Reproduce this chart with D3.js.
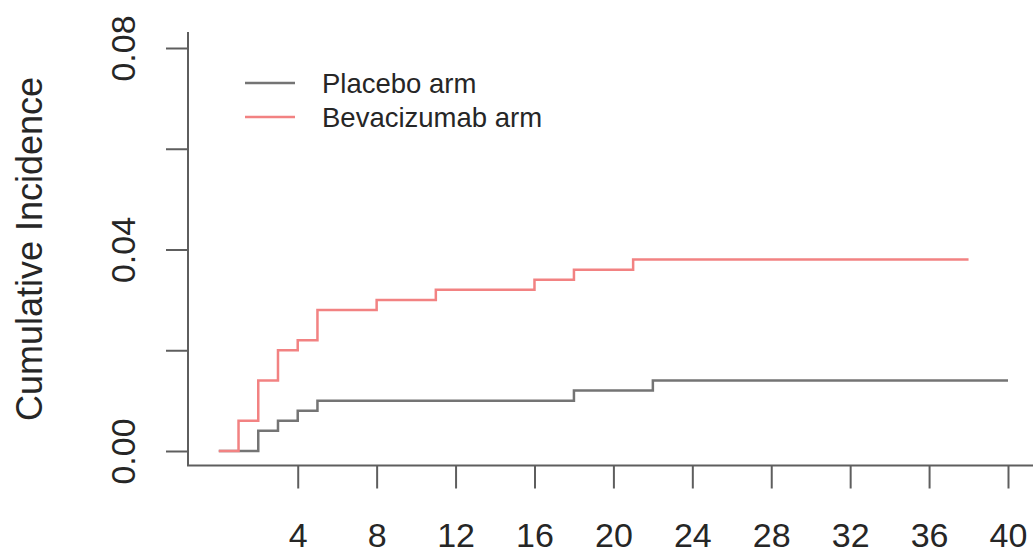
<!DOCTYPE html>
<html>
<head>
<meta charset="utf-8">
<script src="https://cdn.jsdelivr.net/npm/d3@7"></script>
<style>
  html, body { margin: 0; padding: 0; background: #fff; }
  svg { display: block; }
</style>
</head>
<body>
<svg id="chart" width="1033" height="554"></svg>
<script>
// ---- data ----
const seriesNames = ["Placebo arm", "Bevacizumab arm"];
const placeboTime = [0, 2, 3, 4, 5, 18, 22, 40];
const placeboCI   = [0, 0.004, 0.006, 0.008, 0.010, 0.012, 0.014, 0.014];
const bevTime     = [0, 1, 2, 3, 4, 5, 8, 11, 16, 18, 21, 38];
const bevCI       = [0, 0.006, 0.014, 0.020, 0.022, 0.028, 0.030, 0.032, 0.034, 0.036, 0.038, 0.038];
const xTicks = [4, 8, 12, 16, 20, 24, 28, 32, 36, 40];
const yTicks = [0, 0.02, 0.04, 0.06, 0.08];
const yTickLabels = ["0.00", "", "0.04", "", "0.08"];
const yTitle = "Cumulative Incidence";

// ---- layout ----
const svg = d3.select("#chart");
const colors = ["#747474", "#f28282"];
const textColor = "#262626";
const axisColor = "#5e5e5e";
const font = "Liberation Sans, Arial, Helvetica, sans-serif";

const x = d3.scaleLinear().domain([0, 40]).range([218.8, 1008]);
const y = d3.scaleLinear().domain([0, 0.08]).range([451, 48]);

const frameLeft = 188, frameBottom = 465.5, frameTop = 32;

// y axis
const yAxis = d3.axisLeft(y).tickValues(yTicks).tickSize(22)
  .tickFormat((d, i) => yTickLabels[i]);
const gy = svg.append("g").attr("transform", `translate(${frameLeft},0)`).call(yAxis);
gy.select(".domain").remove();
gy.selectAll(".tick line").attr("stroke", axisColor).attr("stroke-width", 2);
gy.selectAll(".tick text")
  .attr("fill", textColor)
  .style("font-family", font)
  .style("font-size", "34px")
  .attr("text-anchor", "middle")
  .attr("dy", null)
  .attr("x", null)
  .attr("transform", `translate(-53,0) rotate(-90)`);

// x axis
const xAxis = d3.axisBottom(x).tickValues(xTicks).tickSize(23).tickFormat(d3.format("d"));
const gx = svg.append("g").attr("transform", `translate(0,${frameBottom})`).call(xAxis);
gx.select(".domain").remove();
gx.selectAll(".tick line").attr("stroke", axisColor).attr("stroke-width", 2);
gx.selectAll(".tick text")
  .attr("fill", textColor)
  .style("font-family", font)
  .style("font-size", "34px")
  .attr("dy", null)
  .attr("y", 81);

// L-shaped frame
svg.append("path")
  .attr("d", `M${frameLeft},${frameTop}V${frameBottom}H1033`)
  .attr("fill", "none").attr("stroke", axisColor).attr("stroke-width", 2);

// y title
svg.append("text")
  .attr("transform", `translate(42,249) rotate(-90)`)
  .attr("text-anchor", "middle")
  .attr("fill", textColor)
  .style("font-family", font)
  .style("font-size", "36px")
  .text(yTitle);

// curves
const line = d3.line().x(d => x(d[0])).y(d => y(d[1])).curve(d3.curveStepAfter);
const series = [d3.zip(placeboTime, placeboCI), d3.zip(bevTime, bevCI)];
series.forEach((s, i) => {
  svg.append("path").datum(s)
    .attr("d", line)
    .attr("fill", "none")
    .attr("stroke", colors[i])
    .attr("stroke-width", 2.5);
});

// legend
const legend = svg.append("g").attr("transform", "translate(245,83)");
seriesNames.forEach((name, i) => {
  const g = legend.append("g").attr("transform", `translate(0,${i * 34})`);
  g.append("line").attr("x1", 0).attr("x2", 50).attr("y1", 0).attr("y2", 0)
    .attr("stroke", colors[i]).attr("stroke-width", 2.5);
  g.append("text").attr("x", 77).attr("y", 10)
    .attr("fill", textColor)
    .style("font-family", font)
    .style("font-size", "27.5px")
    .text(name);
});
</script>
</body>
</html>
